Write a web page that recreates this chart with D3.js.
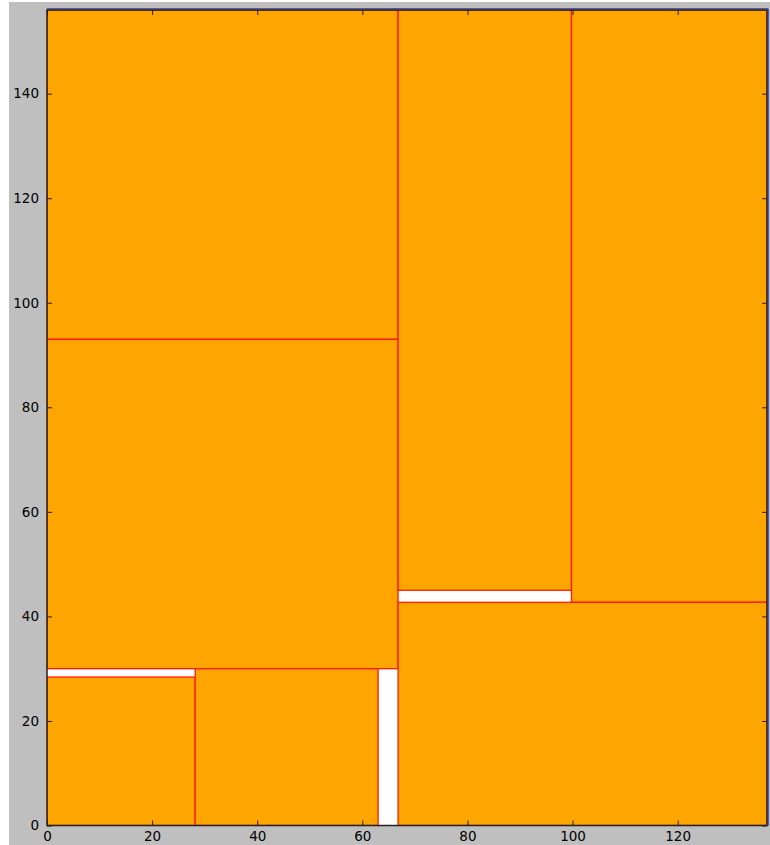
<!DOCTYPE html>
<html>
<head>
<meta charset="utf-8">
<script src="https://cdn.jsdelivr.net/npm/d3@7"></script>
<style>
  html, body { margin: 0; padding: 0; background: #ffffff; }
  svg { display: block; }
  text { font-family: "DejaVu Sans", sans-serif; }
</style>
</head>
<body>
<svg id="chart" width="770" height="845"></svg>
<script>
// Container size of the packing (data units)
const binWidth = 137;
const binHeight = 156;

// Packed rectangles: lower-left corner and size
const rectX = [0, 0, 0, 28.2, 66.8, 99.8, 66.8];
const rectY = [93, 30, 0, 0, 45, 42.7, 0];
const rectW = [66.8, 66.8, 28.2, 34.8, 33.0, 37.2, 70.2];
const rectH = [63, 63, 28.4, 30, 111, 113.3, 42.7];

// Tick values
const xTicks = [0, 20, 40, 60, 80, 100, 120];
const yTicks = [0, 20, 40, 60, 80, 100, 120, 140];

const svg = d3.select("#chart");

// Figure background
svg.append("rect")
  .attr("x", 9).attr("y", 2)
  .attr("width", 761).attr("height", 843)
  .attr("fill", "#bfbfbf");

const plotL = 47, plotR = 767, plotT = 10, plotB = 825.5;

const x = d3.scaleLinear().domain([0, binWidth]).range([plotL, plotR]);
const y = d3.scaleLinear().domain([0, binHeight]).range([plotB, plotT]);

// Axes face
svg.append("rect")
  .attr("x", plotL).attr("y", plotT)
  .attr("width", plotR - plotL).attr("height", plotB - plotT)
  .attr("fill", "#ffffff");

svg.append("clipPath").attr("id", "plot-clip")
  .append("rect")
  .attr("x", plotL).attr("y", plotT)
  .attr("width", plotR - plotL).attr("height", plotB - plotT);

const rects = rectX.map((v, i) => ({ x: v, y: rectY[i], w: rectW[i], h: rectH[i] }));

svg.append("g")
  .attr("clip-path", "url(#plot-clip)")
  .selectAll("rect")
  .data(rects)
  .join("rect")
  .attr("x", d => x(d.x))
  .attr("y", d => y(d.y + d.h))
  .attr("width", d => x(d.x + d.w) - x(d.x))
  .attr("height", d => y(d.y) - y(d.y + d.h))
  .attr("fill", "#ffa500")
  .attr("stroke", "#ff1a00")
  .attr("stroke-width", 1.3);

// Container outline (top and right edges show outside the frame)
svg.append("path")
  .attr("d", `M${x(0)},${y(binHeight) - 1.2}H${x(binWidth) + 1.2}V${y(0)}`)
  .attr("fill", "none")
  .attr("stroke", "#2c2ca0")
  .attr("stroke-width", 1);

// Axes with inward ticks on all four sides
const tickLen = 5;
const xAxisB = d3.axisBottom(x).tickValues(xTicks).tickSize(-tickLen).tickPadding(8).tickFormat(d3.format("d"));
const xAxisT = d3.axisTop(x).tickValues(xTicks).tickSize(-tickLen).tickFormat("");
const yAxisL = d3.axisLeft(y).tickValues(yTicks).tickSize(-tickLen).tickPadding(8).tickFormat(d3.format("d"));
const yAxisR = d3.axisRight(y).tickValues(yTicks).tickSize(-tickLen).tickFormat("");

function styleAxis(g) {
  g.select(".domain").remove();
  g.selectAll(".tick line").attr("stroke", "#222").attr("stroke-width", 1);
  g.selectAll(".tick text").attr("fill", "#000").style("font-size", "13.5px")
    .style("font-family", "'DejaVu Sans', sans-serif");
}

svg.append("g").attr("transform", `translate(0,${plotB})`).call(xAxisB).call(styleAxis)
  .selectAll(".tick text").attr("dy", "0.55em");
svg.append("g").attr("transform", `translate(0,${plotT})`).call(xAxisT).call(styleAxis);
svg.append("g").attr("transform", `translate(${plotL},0)`).call(yAxisL).call(styleAxis);
svg.append("g").attr("transform", `translate(${plotR},0)`).call(yAxisR).call(styleAxis);

// Frame
svg.append("rect")
  .attr("x", plotL).attr("y", plotT)
  .attr("width", plotR - plotL).attr("height", plotB - plotT)
  .attr("fill", "none")
  .attr("stroke", "#222")
  .attr("stroke-width", 1.5);
</script>
</body>
</html>
